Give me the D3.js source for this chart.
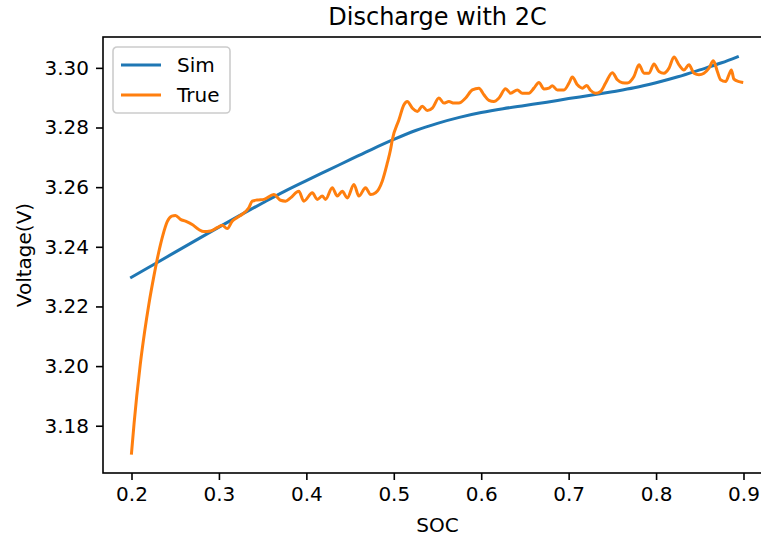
<!DOCTYPE html>
<html>
<head>
<meta charset="utf-8">
<script src="https://cdn.jsdelivr.net/npm/d3@7"></script>
<style>
  html, body { margin: 0; padding: 0; background: #ffffff; }
  svg { display: block; }
  text { font-family: "DejaVu Sans", sans-serif; fill: #000; }
</style>
</head>
<body>
<div id="chart"></div>
<script>
// Simulated voltage curve (SOC, V)
const simSOC = [0.200, 0.225, 0.250, 0.275, 0.300, 0.325, 0.350, 0.375, 0.400, 0.425,
  0.450, 0.475, 0.500, 0.525, 0.550, 0.575, 0.600, 0.625, 0.650, 0.675,
  0.700, 0.725, 0.750, 0.775, 0.800, 0.825, 0.850, 0.875, 0.893];
const simV = [3.2298, 3.2340, 3.2382, 3.2424, 3.2466, 3.2507, 3.2547, 3.2586, 3.2622, 3.2657,
  3.2692, 3.2727, 3.2760, 3.2790, 3.2814, 3.2834, 3.2850, 3.2863, 3.2874, 3.2885,
  3.2897, 3.2908, 3.2920, 3.2933, 3.2950, 3.2970, 3.2993, 3.3017, 3.3037];

// Measured voltage curve (SOC, V)
const trueSOC = [0.2000, 0.2030, 0.2060, 0.2100, 0.2150, 0.2200, 0.2255, 0.2310, 0.2360, 0.2410,
  0.2460, 0.2503,
  0.2560, 0.2618, 0.2694, 0.2770, 0.2827, 0.2904, 0.2980, 0.3038, 0.3095, 0.3152,
  0.3209, 0.3267, 0.3342, 0.3381, 0.3438, 0.3514, 0.3628, 0.3705, 0.3762, 0.3819,
  0.3914, 0.3971, 0.4068, 0.4125, 0.4182, 0.4220, 0.4296, 0.4354, 0.4411, 0.4468,
  0.4544, 0.4601, 0.4677, 0.4735, 0.4792, 0.4868, 0.4926, 0.4963, 0.4983, 0.5059,
  0.5116, 0.5154, 0.5212, 0.5269, 0.5326, 0.5383, 0.5441, 0.5516, 0.5573, 0.5630,
  0.5688, 0.5745, 0.5822, 0.5898, 0.5974, 0.6031, 0.6088, 0.6145, 0.6203, 0.6279,
  0.6336, 0.6413, 0.6470, 0.6546, 0.6603, 0.6660, 0.6718, 0.6775, 0.6813, 0.6871,
  0.6947, 0.7004, 0.7042, 0.7100, 0.7157, 0.7206, 0.7252, 0.7309, 0.7366, 0.7423,
  0.7500, 0.7557, 0.7614, 0.7671, 0.7747, 0.7805, 0.7862, 0.7919, 0.7976, 0.8033,
  0.8090, 0.8148, 0.8205, 0.8262, 0.8319, 0.8376, 0.8434, 0.8491, 0.8548, 0.8605,
  0.8655, 0.8701, 0.8738, 0.8796, 0.8834, 0.8861, 0.8891, 0.8948, 0.8980];
const trueV = [3.1708, 3.1810, 3.1900, 3.2005, 3.2115, 3.2210, 3.2300, 3.2380, 3.2440, 3.2485,
  3.2503, 3.2505,
  3.2492, 3.2486, 3.2475, 3.2458, 3.2451, 3.2453, 3.2464, 3.2472, 3.2461, 3.2486,
  3.2498, 3.2509, 3.2531, 3.2553, 3.2557, 3.2559, 3.2575, 3.2556, 3.2553, 3.2564,
  3.2586, 3.2553, 3.2581, 3.2559, 3.2570, 3.2559, 3.2598, 3.2570, 3.2586, 3.2564,
  3.2609, 3.2570, 3.2598, 3.2575, 3.2581, 3.2620, 3.2681, 3.2726, 3.2759, 3.2826,
  3.2876, 3.2887, 3.2865, 3.2854, 3.2871, 3.2857, 3.2865, 3.2899, 3.2882, 3.2887,
  3.2882, 3.2882, 3.2899, 3.2926, 3.2932, 3.2910, 3.2891, 3.2887, 3.2899, 3.2930,
  3.2915, 3.2926, 3.2915, 3.2915, 3.2932, 3.2951, 3.2929, 3.2932, 3.2940, 3.2926,
  3.2926, 3.2949, 3.2969, 3.2943, 3.2932, 3.2941, 3.2924, 3.2915, 3.2921, 3.2949,
  3.2984, 3.2960, 3.2950, 3.2949, 3.2971, 3.3010, 3.2982, 3.2982, 3.3013, 3.2988,
  3.2982, 3.2999, 3.3036, 3.3010, 3.2993, 3.3010, 3.2982, 3.2977, 3.2982, 3.2999,
  3.3024, 3.2988, 3.2960, 3.2954, 3.2977, 3.2993, 3.2962, 3.2954, 3.2952];

// Axis limits and tick labels
const xLimits = [0.1674, 0.9326];
const xTicks = [0.2, 0.3, 0.4, 0.5, 0.6, 0.7, 0.8, 0.9];
const yTicks = [3.18, 3.20, 3.22, 3.24, 3.26, 3.28, 3.30];
const seriesNames = ["Sim", "True"];
const seriesColors = ["#1f77b4", "#ff7f0e"];

const W = 761, H = 537;
const plot = { left: 103, right: 772, top: 37, bottom: 473 };

const svg = d3.select("#chart").append("svg")
  .attr("width", W).attr("height", H);

// y limits padded by 5% of the data span
const allV = simV.concat(trueV);
const vMin = d3.min(allV), vMax = d3.max(allV);
const vPad = (vMax - vMin) * 0.05;

const x = d3.scaleLinear().domain(xLimits).range([plot.left, plot.right]);
const y = d3.scaleLinear().domain([vMin - vPad, vMax + vPad]).range([plot.bottom, plot.top]);

svg.append("clipPath").attr("id", "plot-clip")
  .append("rect")
  .attr("x", plot.left).attr("y", plot.top)
  .attr("width", plot.right - plot.left).attr("height", plot.bottom - plot.top);

const line = d3.line()
  .x(d => x(d[0])).y(d => y(d[1]))
  .curve(d3.curveMonotoneX);

const simData = simSOC.map((s, i) => [s, simV[i]]);
const trueData = trueSOC.map((s, i) => [s, trueV[i]]);

const lines = svg.append("g").attr("clip-path", "url(#plot-clip)");
[simData, trueData].forEach((data, i) => {
  lines.append("path")
    .datum(data)
    .attr("d", line)
    .attr("fill", "none")
    .attr("stroke", seriesColors[i])
    .attr("stroke-width", 3)
    .attr("stroke-linejoin", "round")
    .attr("stroke-linecap", "square");
});

// Axes
const xAxis = d3.axisBottom(x).tickValues(xTicks).tickFormat(d3.format(".1f"))
  .tickSize(7).tickPadding(7);
const yAxis = d3.axisLeft(y).tickValues(yTicks).tickFormat(d3.format(".2f"))
  .tickSize(7).tickPadding(7);

const gx = svg.append("g").attr("transform", `translate(0,${plot.bottom})`).call(xAxis);
const gy = svg.append("g").attr("transform", `translate(${plot.left},0)`).call(yAxis);
[gx, gy].forEach(g => {
  g.select(".domain").remove();
  g.selectAll(".tick line").attr("stroke", "#000").attr("stroke-width", 1.6);
  g.selectAll(".tick text").attr("font-size", 20)
    .attr("font-family", "DejaVu Sans").attr("fill", "#000");
});

// Frame
svg.append("rect")
  .attr("x", plot.left).attr("y", plot.top)
  .attr("width", plot.right - plot.left).attr("height", plot.bottom - plot.top)
  .attr("fill", "none").attr("stroke", "#000").attr("stroke-width", 1.6);

// Title and axis labels
const cx = (plot.left + plot.right) / 2;
svg.append("text").attr("x", cx).attr("y", 25)
  .attr("text-anchor", "middle").attr("font-size", 24)
  .text("Discharge with 2C");

svg.append("text").attr("x", cx).attr("y", 532)
  .attr("text-anchor", "middle").attr("font-size", 20)
  .text("SOC");

svg.append("text")
  .attr("transform", `translate(31,${(plot.top + plot.bottom) / 2}) rotate(-90)`)
  .attr("text-anchor", "middle").attr("font-size", 20)
  .text("Voltage(V)");

// Legend
const lg = svg.append("g").attr("transform", `translate(${plot.left + 10},${plot.top + 10})`);
lg.append("rect")
  .attr("x", 0).attr("y", 0).attr("width", 117).attr("height", 66)
  .attr("rx", 4).attr("ry", 4)
  .attr("fill", "#fff").attr("fill-opacity", 0.8)
  .attr("stroke", "#cccccc").attr("stroke-width", 1.6);
seriesNames.forEach((name, i) => {
  const cy = 18 + i * 30;
  lg.append("line")
    .attr("x1", 8).attr("x2", 48).attr("y1", cy).attr("y2", cy)
    .attr("stroke", seriesColors[i]).attr("stroke-width", 3);
  lg.append("text").attr("x", 64).attr("y", cy + 7)
    .attr("font-size", 20).text(name);
});
</script>
</body>
</html>
